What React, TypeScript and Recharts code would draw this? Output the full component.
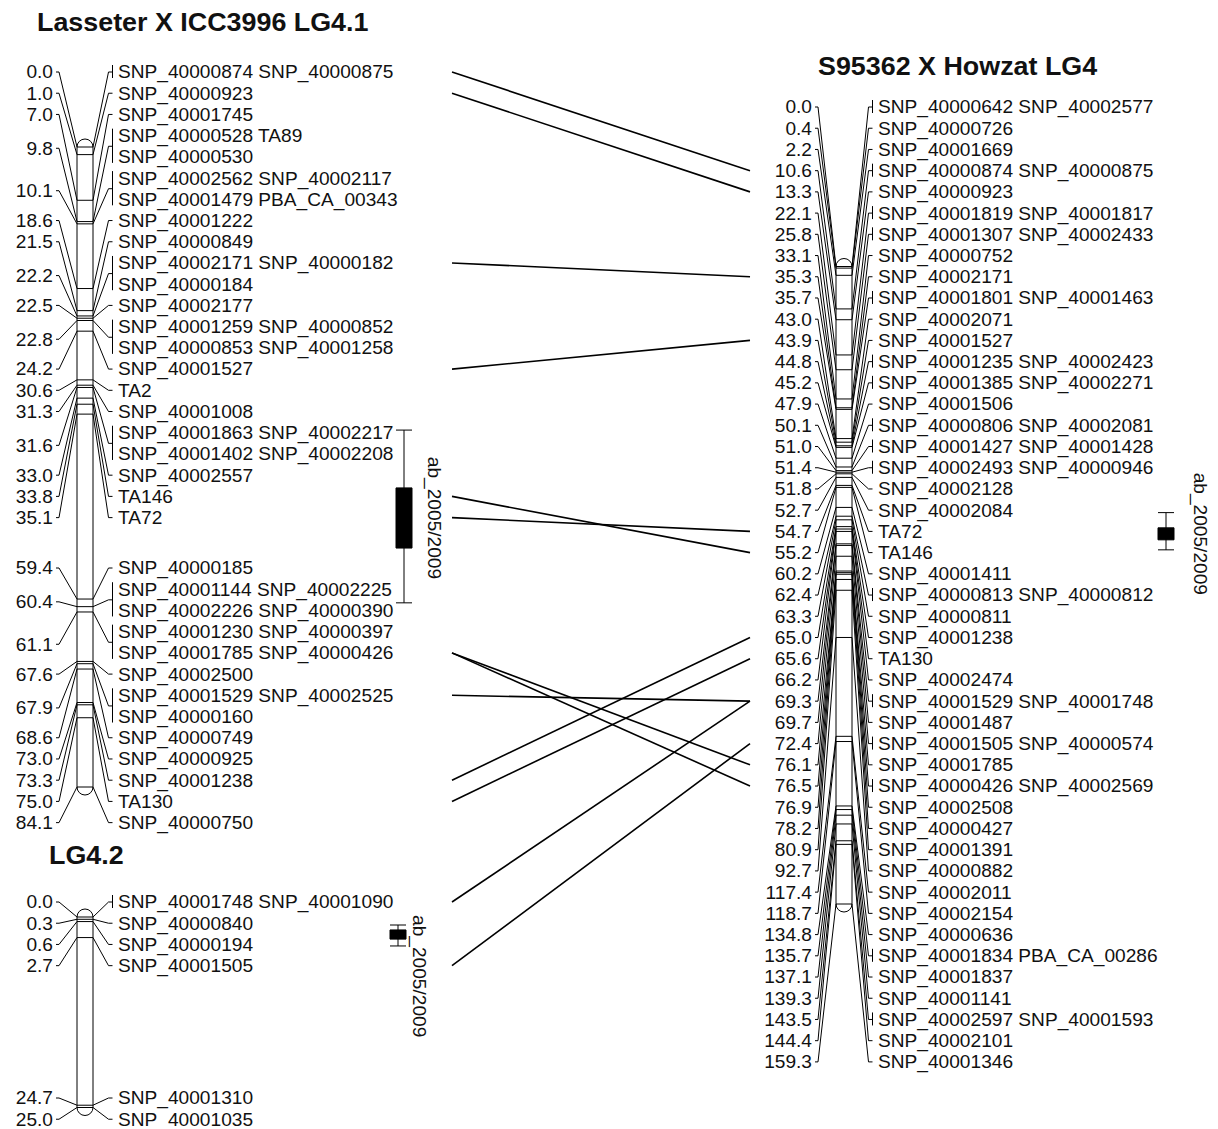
import React from "react";
import { ComposedChart, XAxis, YAxis, Scatter, ReferenceArea, ReferenceLine } from "recharts";

const W = 1218;
const H = 1129;
const ROW_H = 21.22;
const FONT = "'Liberation Sans', Arial, Helvetica, sans-serif";
const FS = 17.8;
const TITLE_FS = 25;
const SX = 1.075;
const BAR_W = 16;

type MapId = "lg41" | "lg42" | "lg4";
type Locus = { cM: number; rows: string[] };

// Lasseter X ICC3996 LG4.1 (cM, label rows)
const lg41Loci: Locus[] = [
  { cM: 0.0, rows: ["SNP_40000874 SNP_40000875"] },
  { cM: 1.0, rows: ["SNP_40000923"] },
  { cM: 7.0, rows: ["SNP_40001745"] },
  { cM: 9.8, rows: ["SNP_40000528 TA89", "SNP_40000530"] },
  { cM: 10.1, rows: ["SNP_40002562 SNP_40002117", "SNP_40001479 PBA_CA_00343"] },
  { cM: 18.6, rows: ["SNP_40001222"] },
  { cM: 21.5, rows: ["SNP_40000849"] },
  { cM: 22.2, rows: ["SNP_40002171 SNP_40000182", "SNP_40000184"] },
  { cM: 22.5, rows: ["SNP_40002177"] },
  { cM: 22.8, rows: ["SNP_40001259 SNP_40000852", "SNP_40000853 SNP_40001258"] },
  { cM: 24.2, rows: ["SNP_40001527"] },
  { cM: 30.6, rows: ["TA2"] },
  { cM: 31.3, rows: ["SNP_40001008"] },
  { cM: 31.6, rows: ["SNP_40001863 SNP_40002217", "SNP_40001402 SNP_40002208"] },
  { cM: 33.0, rows: ["SNP_40002557"] },
  { cM: 33.8, rows: ["TA146"] },
  { cM: 35.1, rows: ["TA72"] },
  { cM: 59.4, rows: ["SNP_40000185"] },
  { cM: 60.4, rows: ["SNP_40001144 SNP_40002225", "SNP_40002226 SNP_40000390"] },
  { cM: 61.1, rows: ["SNP_40001230 SNP_40000397", "SNP_40001785 SNP_40000426"] },
  { cM: 67.6, rows: ["SNP_40002500"] },
  { cM: 67.9, rows: ["SNP_40001529 SNP_40002525", "SNP_40000160"] },
  { cM: 68.6, rows: ["SNP_40000749"] },
  { cM: 73.0, rows: ["SNP_40000925"] },
  { cM: 73.3, rows: ["SNP_40001238"] },
  { cM: 75.0, rows: ["TA130"] },
  { cM: 84.1, rows: ["SNP_40000750"] },
];

// LG4.2
const lg42Loci: Locus[] = [
  { cM: 0.0, rows: ["SNP_40001748 SNP_40001090"] },
  { cM: 0.3, rows: ["SNP_40000840"] },
  { cM: 0.6, rows: ["SNP_40000194"] },
  { cM: 2.7, rows: ["SNP_40001505"] },
  { cM: 24.7, rows: ["SNP_40001310"] },
  { cM: 25.0, rows: ["SNP_40001035"] },
];

// S95362 X Howzat LG4
const lg4Loci: Locus[] = [
  { cM: 0.0, rows: ["SNP_40000642 SNP_40002577"] },
  { cM: 0.4, rows: ["SNP_40000726"] },
  { cM: 2.2, rows: ["SNP_40001669"] },
  { cM: 10.6, rows: ["SNP_40000874 SNP_40000875"] },
  { cM: 13.3, rows: ["SNP_40000923"] },
  { cM: 22.1, rows: ["SNP_40001819 SNP_40001817"] },
  { cM: 25.8, rows: ["SNP_40001307 SNP_40002433"] },
  { cM: 33.1, rows: ["SNP_40000752"] },
  { cM: 35.3, rows: ["SNP_40002171"] },
  { cM: 35.7, rows: ["SNP_40001801 SNP_40001463"] },
  { cM: 43.0, rows: ["SNP_40002071"] },
  { cM: 43.9, rows: ["SNP_40001527"] },
  { cM: 44.8, rows: ["SNP_40001235 SNP_40002423"] },
  { cM: 45.2, rows: ["SNP_40001385 SNP_40002271"] },
  { cM: 47.9, rows: ["SNP_40001506"] },
  { cM: 50.1, rows: ["SNP_40000806 SNP_40002081"] },
  { cM: 51.0, rows: ["SNP_40001427 SNP_40001428"] },
  { cM: 51.4, rows: ["SNP_40002493 SNP_40000946"] },
  { cM: 51.8, rows: ["SNP_40002128"] },
  { cM: 52.7, rows: ["SNP_40002084"] },
  { cM: 54.7, rows: ["TA72"] },
  { cM: 55.2, rows: ["TA146"] },
  { cM: 60.2, rows: ["SNP_40001411"] },
  { cM: 62.4, rows: ["SNP_40000813 SNP_40000812"] },
  { cM: 63.3, rows: ["SNP_40000811"] },
  { cM: 65.0, rows: ["SNP_40001238"] },
  { cM: 65.6, rows: ["TA130"] },
  { cM: 66.2, rows: ["SNP_40002474"] },
  { cM: 69.3, rows: ["SNP_40001529 SNP_40001748"] },
  { cM: 69.7, rows: ["SNP_40001487"] },
  { cM: 72.4, rows: ["SNP_40001505 SNP_40000574"] },
  { cM: 76.1, rows: ["SNP_40001785"] },
  { cM: 76.5, rows: ["SNP_40000426 SNP_40002569"] },
  { cM: 76.9, rows: ["SNP_40002508"] },
  { cM: 78.2, rows: ["SNP_40000427"] },
  { cM: 80.9, rows: ["SNP_40001391"] },
  { cM: 92.7, rows: ["SNP_40000882"] },
  { cM: 117.4, rows: ["SNP_40002011"] },
  { cM: 118.7, rows: ["SNP_40002154"] },
  { cM: 134.8, rows: ["SNP_40000636"] },
  { cM: 135.7, rows: ["SNP_40001834 PBA_CA_00286"] },
  { cM: 137.1, rows: ["SNP_40001837"] },
  { cM: 139.3, rows: ["SNP_40001141"] },
  { cM: 143.5, rows: ["SNP_40002597 SNP_40001593"] },
  { cM: 144.4, rows: ["SNP_40002101"] },
  { cM: 159.3, rows: ["SNP_40001346"] },
];

// markers shared between the maps
const links: { from: MapId; to: MapId; marker: string }[] = [
  { from: "lg41", to: "lg4", marker: "SNP_40000874" },
  { from: "lg41", to: "lg4", marker: "SNP_40000923" },
  { from: "lg41", to: "lg4", marker: "SNP_40002171" },
  { from: "lg41", to: "lg4", marker: "SNP_40001527" },
  { from: "lg41", to: "lg4", marker: "TA146" },
  { from: "lg41", to: "lg4", marker: "TA72" },
  { from: "lg41", to: "lg4", marker: "SNP_40001785" },
  { from: "lg41", to: "lg4", marker: "SNP_40000426" },
  { from: "lg41", to: "lg4", marker: "SNP_40001529" },
  { from: "lg41", to: "lg4", marker: "SNP_40001238" },
  { from: "lg41", to: "lg4", marker: "TA130" },
  { from: "lg42", to: "lg4", marker: "SNP_40001748" },
  { from: "lg42", to: "lg4", marker: "SNP_40001505" },
];

// QTL ab_2005/2009: whisker and box limits in cM
const qtls: { map: MapId; name: string; lo: number; boxLo: number; boxHi: number; hi: number }[] = [
  { map: "lg41", name: "ab_2005/2009", lo: 37.2, boxLo: 44.8, boxHi: 52.7, hi: 59.9 },
  { map: "lg42", name: "ab_2005/2009", lo: 1.05, boxLo: 1.7, boxHi: 2.9, hi: 3.8 },
  { map: "lg4", name: "ab_2005/2009", lo: 61.5, boxLo: 65.3, boxHi: 68.3, hi: 70.8 },
];

const lociOf: Record<MapId, Locus[]> = { lg41: lg41Loci, lg42: lg42Loci, lg4: lg4Loci };

// page layout (pixels)
const layout: Record<MapId, {
  title: string; titleX: number; titleY: number; barX: number; top: number; bottom: number;
  numRight: number; labelX: number; blocks: { start: number; top: number }[];
  qtlX: number; qtlTextX: number; qtlTextStart: boolean;
}> = {
  lg41: {
    title: "Lasseter X ICC3996 LG4.1", titleX: 37, titleY: 22, barX: 77, top: 147, bottom: 787,
    numRight: 53, labelX: 118, blocks: [{ start: 0, top: 72 }, { start: 22, top: 568 }],
    qtlX: 404, qtlTextX: 434, qtlTextStart: false,
  },
  lg42: {
    title: "LG4.2", titleX: 49, titleY: 855, barX: 77, top: 917, bottom: 1107.5,
    numRight: 53, labelX: 118, blocks: [{ start: 0, top: 902 }, { start: 4, top: 1098 }],
    qtlX: 398, qtlTextX: 419, qtlTextStart: true,
  },
  lg4: {
    title: "S95362 X Howzat LG4", titleX: 818, titleY: 66, barX: 836, top: 266.5, bottom: 904,
    numRight: 812, labelX: 878, blocks: [{ start: 0, top: 107 }],
    qtlX: 1166, qtlTextX: 1200, qtlTextStart: false,
  },
};
const LINK_X1 = 452;
const LINK_X2 = 750;
const MAPS: MapId[] = ["lg41", "lg42", "lg4"];

type Placed = Locus & { ys: number[]; numY: number; mid: number; x: number; y: number };

function placeRows(id: MapId): Placed[] {
  const l = layout[id];
  let idx = 0;
  return lociOf[id].map((locus) => {
    const ys = locus.rows.map(() => {
      const b = [...l.blocks].reverse().find((bl) => idx >= bl.start)!;
      const y = b.top + (idx - b.start) * ROW_H;
      idx += 1;
      return y;
    });
    const mid = (ys[0] + ys[ys.length - 1]) / 2;
    return { ...locus, ys, mid, numY: ys.length > 1 ? mid + 2 : mid, x: l.barX + BAR_W / 2, y: locus.cM };
  });
}

const placed: Record<MapId, Placed[]> = { lg41: placeRows("lg41"), lg42: placeRows("lg42"), lg4: placeRows("lg4") };

function rowOf(id: MapId, marker: string): number {
  for (const p of placed[id]) {
    const i = p.rows.findIndex((r) => r.split(" ").includes(marker));
    if (i >= 0) return p.ys[i];
  }
  return 0;
}

function mapDomain(id: MapId): [number, number] {
  const l = layout[id];
  const loci = lociOf[id];
  const len = loci[loci.length - 1].cM;
  const k = (l.bottom - l.top) / len;
  return [-l.top / k, (H - l.top) / k];
}

// texts placed on the page axis
type TextItem = { x: number; y: number; text: string; anchor: string; title?: boolean };
const texts: TextItem[] = MAPS.flatMap((id) => {
  const l = layout[id];
  const items: TextItem[] = [{ x: l.titleX, y: l.titleY, text: l.title, anchor: "start", title: true }];
  placed[id].forEach((p) => {
    items.push({ x: l.numRight, y: p.numY, text: p.cM.toFixed(1), anchor: "end" });
    p.rows.forEach((r, i) => items.push({ x: l.labelX, y: p.ys[i], text: r, anchor: "start" }));
  });
  return items;
});

const TextShape = (p: any) => {
  const d = p.payload as TextItem;
  const fs = d.title ? TITLE_FS : FS;
  return (
    <text
      transform={`translate(${p.cx},${p.cy}) scale(${SX},1)`}
      x={0}
      y={fs * 0.36}
      textAnchor={d.anchor}
      fontFamily={FONT}
      fontSize={fs}
      fontWeight={d.title ? 700 : 400}
      fill="#111"
    >
      {d.text}
    </text>
  );
};

const locusShape = (id: MapId) => (p: any) => {
  const l = layout[id];
  const d = p.payload as Placed;
  const left = p.cx - BAR_W / 2;
  const right = p.cx + BAR_W / 2;
  const y = p.cy;
  const first = d.ys[0];
  const last = d.ys[d.ys.length - 1];
  const tickX = l.labelX - 5.5;
  const grouped = d.ys.length > 1 || d.rows[0].includes(" ");
  return (
    <g stroke="#000" strokeWidth={1} fill="none">
      <line x1={left} x2={right} y1={y} y2={y} />
      <polyline points={`${l.numRight + 3},${d.numY} ${l.numRight + 6},${d.numY} ${left},${y}`} />
      <polyline points={`${right},${y} ${tickX - 4},${d.mid} ${tickX},${d.mid}`} />
      {grouped && <line x1={tickX} x2={tickX} y1={first - 7} y2={last + 6} />}
    </g>
  );
};

const chromShape = (p: any) => {
  const { x, y, width, height } = p;
  const r = width / 2;
  return (
    <path
      d={`M${x},${y} A${r},${r} 0 0 1 ${x + width},${y} L${x + width},${y + height} A${r},${r} 0 0 1 ${x},${y + height} Z`}
      fill="#fff"
      stroke="#000"
      strokeWidth={1}
    />
  );
};

const QtlLabel = (p: any) => {
  const d = p.payload;
  const dy = d.start ? -10 : 0;
  return (
    <text
      transform={`translate(${p.cx},${p.cy + dy}) rotate(90) scale(${SX},1)`}
      x={0}
      y={FS * 0.36}
      textAnchor={d.start ? "start" : "middle"}
      fontFamily={FONT}
      fontSize={FS}
      fill="#111"
    >
      {d.text}
    </text>
  );
};

export default function App() {
  return (
    <div style={{ position: "absolute", left: 0, top: 0, width: W, height: H, background: "#fff" }}>
      <ComposedChart width={W} height={H} margin={{ top: 0, right: 0, bottom: 0, left: 0 }}>
        <XAxis type="number" dataKey="x" domain={[0, W]} allowDataOverflow hide />
        <YAxis yAxisId="px" type="number" dataKey="y" domain={[0, H]} reversed allowDataOverflow hide />
        {MAPS.map((id) => (
          <YAxis key={id} yAxisId={id} type="number" dataKey="y" domain={mapDomain(id)} reversed allowDataOverflow hide />
        ))}

        {MAPS.map((id) => (
          <ReferenceArea
            key={`bar-${id}`}
            yAxisId={id}
            x1={layout[id].barX}
            x2={layout[id].barX + BAR_W}
            y1={0}
            y2={lociOf[id][lociOf[id].length - 1].cM}
            ifOverflow="visible"
            shape={chromShape}
          />
        ))}

        {MAPS.map((id) => (
          <Scatter
            key={`loci-${id}`}
            yAxisId={id}
            data={placed[id]}
            shape={locusShape(id)}
            isAnimationActive={false}
          />
        ))}

        {links.map((lk) => (
          <ReferenceLine
            key={`link-${lk.marker}`}
            yAxisId="px"
            ifOverflow="visible"
            segment={[
              { x: LINK_X1, y: rowOf(lk.from, lk.marker) },
              { x: LINK_X2, y: rowOf(lk.to, lk.marker) },
            ]}
            stroke="#000"
            strokeWidth={1.6}
          />
        ))}

        {qtls.flatMap((q) => {
          const x = layout[q.map].qtlX;
          return [
            <ReferenceLine key={`w-${q.map}`} yAxisId={q.map} ifOverflow="visible"
              segment={[{ x, y: q.lo }, { x, y: q.hi }]} stroke="#000" strokeWidth={1} />,
            <ReferenceLine key={`c1-${q.map}`} yAxisId={q.map} ifOverflow="visible"
              segment={[{ x: x - 8, y: q.lo }, { x: x + 8, y: q.lo }]} stroke="#000" strokeWidth={1} />,
            <ReferenceLine key={`c2-${q.map}`} yAxisId={q.map} ifOverflow="visible"
              segment={[{ x: x - 8, y: q.hi }, { x: x + 8, y: q.hi }]} stroke="#000" strokeWidth={1} />,
            <ReferenceArea key={`b-${q.map}`} yAxisId={q.map} ifOverflow="visible"
              x1={x - 8} x2={x + 8} y1={q.boxLo} y2={q.boxHi} fill="#000" fillOpacity={1} stroke="#000" />,
          ];
        })}

        {qtls.map((q) => (
          <Scatter
            key={`ql-${q.map}`}
            yAxisId={q.map}
            data={[{
              x: layout[q.map].qtlX + (layout[q.map].qtlTextX - layout[q.map].qtlX),
              y: layout[q.map].qtlTextStart ? q.lo : (q.boxLo + q.boxHi) / 2,
              text: q.name,
              start: layout[q.map].qtlTextStart,
            }]}
            shape={QtlLabel}
            isAnimationActive={false}
          />
        ))}

        <Scatter yAxisId="px" data={texts} shape={TextShape} isAnimationActive={false} />
      </ComposedChart>
    </div>
  );
}
